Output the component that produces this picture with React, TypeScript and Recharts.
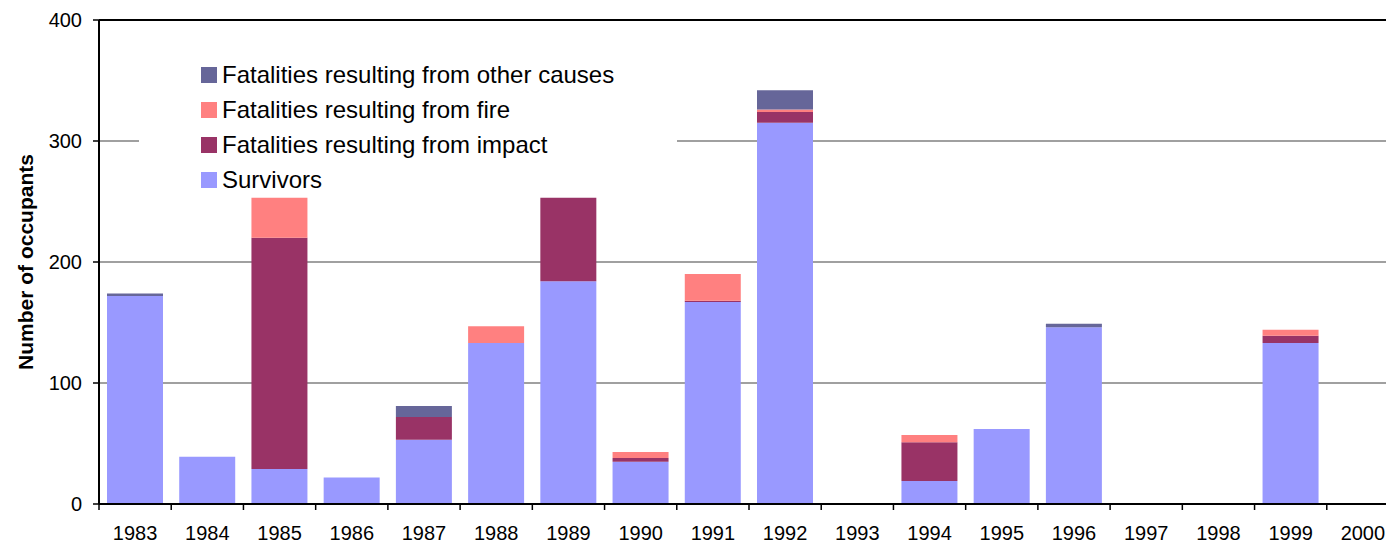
import {
  Bar,
  BarChart,
  CartesianGrid,
  Legend,
  ReferenceLine,
  XAxis,
  YAxis,
} from 'recharts';

const years = [
  '1983', '1984', '1985', '1986', '1987', '1988', '1989', '1990', '1991',
  '1992', '1993', '1994', '1995', '1996', '1997', '1998', '1999', '2000',
];
const survivors = [172, 39, 29, 22, 53, 133, 184, 35, 167, 315, 0, 19, 62, 146, 0, 0, 133, 0];
const impact = [0, 0, 191, 0, 19, 0, 69, 3, 1, 9, 0, 32, 0, 0, 0, 0, 6, 0];
const fire = [0, 0, 33, 0, 0, 14, 0, 5, 22, 2, 0, 6, 0, 0, 0, 0, 5, 0];
const other = [2, 0, 0, 0, 9, 0, 0, 0, 0, 16, 0, 0, 0, 3, 0, 0, 0, 0];
const yTicks = [0, 100, 200, 300, 400];

const series = [
  {key: 'survivors', name: 'Survivors', color: '#9999FF'},
  {key: 'impact', name: 'Fatalities resulting from impact', color: '#993366'},
  {key: 'fire', name: 'Fatalities resulting from fire', color: '#FF8080'},
  {key: 'other', name: 'Fatalities resulting from other causes', color: '#666699'},
];

const data = years.map((year, i) => ({
  year,
  survivors: survivors[i],
  impact: impact[i],
  fire: fire[i],
  other: other[i],
}));

const FONT = '"Liberation Sans", Arial, sans-serif';
const PLOT_WIDTH = 1300;
const BAND = PLOT_WIDTH / years.length;

// category ticks sit between the bars, labels stay centred
function YearTick({x, y, payload, index}: any) {
  const top = y - 22;
  return (
    <g>
      <line x1={x - BAND / 2} x2={x - BAND / 2} y1={top} y2={top + 6} stroke="#000" strokeWidth={1.5} />
      {index === years.length - 1 && (
        <line x1={x + BAND / 2} x2={x + BAND / 2} y1={top} y2={top + 6} stroke="#000" strokeWidth={1.5} />
      )}
      <text x={x} y={y} dy="0.71em" textAnchor="middle" fontSize={20} fill="#000" fontFamily={FONT}>
        {payload.value}
      </text>
    </g>
  );
}

function OccupantLegend() {
  return (
    <div style={{background: '#fff', width: 538, fontFamily: FONT}}>
      {[...series].reverse().map((s) => (
        <div key={s.key} style={{height: 35, display: 'flex', alignItems: 'center'}}>
          <span
            style={{
              display: 'inline-block',
              width: 16,
              height: 16,
              background: s.color,
              marginLeft: 62,
              marginRight: 5,
            }}
          />
          <span style={{fontSize: 24, color: '#000'}}>{s.name}</span>
        </div>
      ))}
    </div>
  );
}

export default function App() {
  return (
    <div
      style={{
        position: 'absolute',
        left: 0,
        top: 0,
        width: 1386,
        height: 545,
        overflow: 'hidden',
        background: '#fff',
      }}
    >
      <BarChart
        width={1400}
        height={545}
        data={data}
        margin={{top: 20, right: 1, left: 0, bottom: 11}}
        barSize={56}
      >
        <CartesianGrid vertical={false} stroke="#808080" strokeWidth={1.5} />
        <XAxis
          dataKey="year"
          interval={0}
          height={30}
          tickLine={false}
          tickSize={6}
          tickMargin={16}
          axisLine={{stroke: '#000', strokeWidth: 2}}
          tick={<YearTick />}
        />
        <YAxis
          width={99}
          domain={[0, 400]}
          ticks={yTicks}
          tickSize={6}
          tickMargin={11}
          axisLine={{stroke: '#000', strokeWidth: 2}}
          tickLine={{stroke: '#000', strokeWidth: 1.5}}
          tick={{fontSize: 20, fill: '#000', fontFamily: FONT}}
          label={{
            value: 'Number of occupants',
            content: ({viewBox}: any) => {
              const cy = viewBox.y + viewBox.height / 2;
              return (
                <text
                  x={25}
                  y={cy}
                  transform={`rotate(-90, 25, ${cy})`}
                  textAnchor="middle"
                  dominantBaseline="central"
                  fontSize={21}
                  fontWeight="bold"
                  fontFamily={FONT}
                  fill="#000"
                >
                  Number of occupants
                </text>
              );
            },
          }}
        />
        <ReferenceLine y={400} stroke="#000" strokeWidth={2} />
        {series.map((s) => (
          <Bar
            key={s.key}
            dataKey={s.key}
            name={s.name}
            stackId="occupants"
            fill={s.color}
            isAnimationActive={false}
          />
        ))}
        <Legend
          layout="vertical"
          verticalAlign="middle"
          align="center"
          content={<OccupantLegend />}
          wrapperStyle={{left: 139, top: 57, width: 538}}
        />
      </BarChart>
    </div>
  );
}
